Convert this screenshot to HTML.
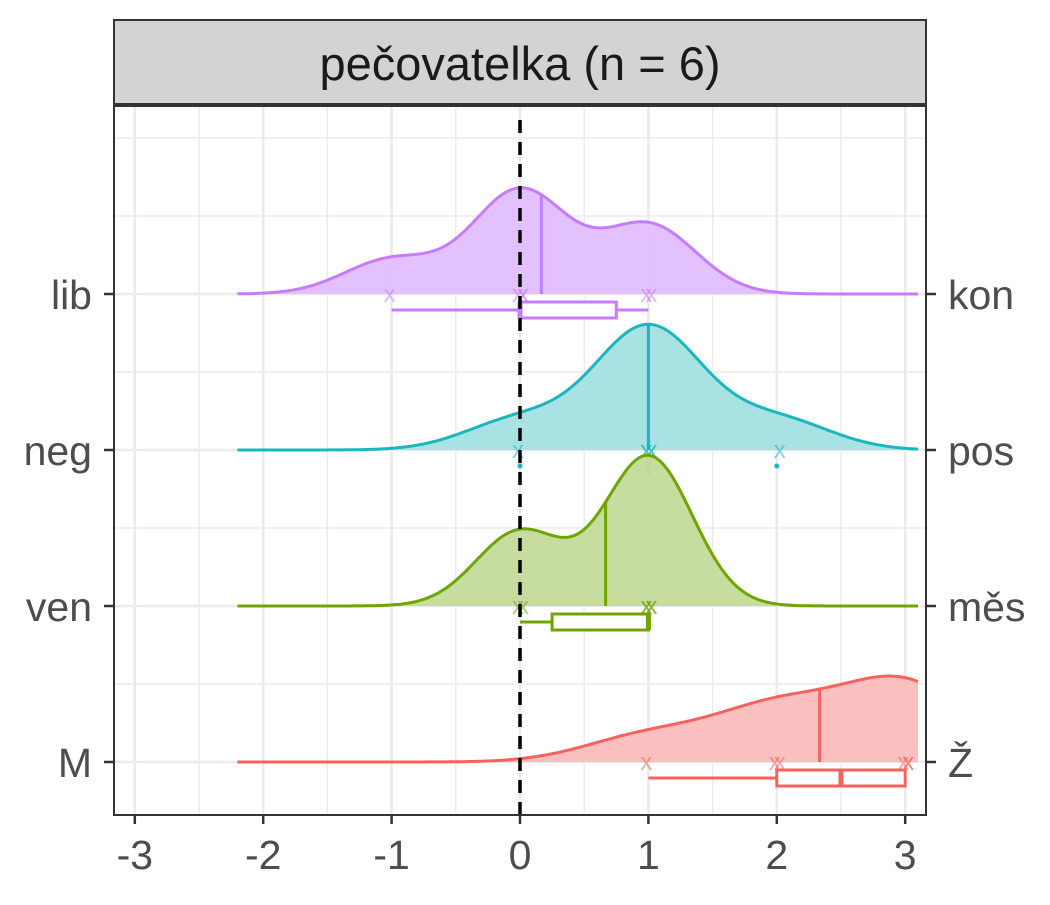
<!DOCTYPE html>
<html><head><meta charset="utf-8"><style>
html,body{margin:0;padding:0;background:#fff;}
svg text{font-family:"Liberation Sans",sans-serif;}
</style></head><body>
<svg id="chart" width="1050" height="900" viewBox="0 0 1050 900" xmlns="http://www.w3.org/2000/svg">
<rect x="0" y="0" width="1050" height="900" fill="#fff"/>
<g id="grid"></g>
<g id="marks"></g>
<g id="axes"></g>
</svg>
<script>
const categories = ["lib","neg","ven","M"];
const rightLabels = ["kon","pos","měs","Ž"];
const colors = ["#C77CFF","#1CB7BE","#6FA500","#F6635E"];
const fills = ["#E1BEFF","#A4E0E2","#C4DB9A","#F9BDBC"];
const valuesLib = [-1,0,0,0,1,1];
const valuesNeg = [0,1,1,1,1,2];
const valuesVen = [0,0,1,1,1,1];
const valuesM = [1,2,2,3,3,3];
const series = [valuesLib,valuesNeg,valuesVen,valuesM];
const xTicks = [-3,-2,-1,0,1,2,3];
const densMin = -2.2, densMax = 3.1;

const NS="http://www.w3.org/2000/svg";
const pl=114, pr=926, pt=106, pb=815;
const xs = v => 520 + v*128.4;
const rowY = i => 294 + i*156;
const grid=document.getElementById('grid'), marks=document.getElementById('marks'), axes=document.getElementById('axes');
function mk(tag, attrs, parent){const e=document.createElementNS(NS,tag);for(const k in attrs)e.setAttribute(k,attrs[k]);parent.appendChild(e);return e;}

for(let v=-3; v<=3.01; v+=0.5){
  const l=mk('line',{x1:xs(v),x2:xs(v),y1:pt,y2:pb,stroke:'#EBEBEB','stroke-width':Number.isInteger(v)?2.6:1.4},grid);
  
  
}
for(let k=-2; k<=7; k++){
  const y=rowY(0)+k*78-78;
  if(y<pt||y>pb) continue;
  const major = (k-1)%2===0 && k>=1 && k<=7;
  const l=mk('line',{x1:pl,x2:pr,y1:y,y2:y,stroke:'#EBEBEB','stroke-width':major?2.6:1.4},grid);
  
  
}

function quant(a,p){const s=[...a].sort((x,y)=>x-y);const h=(s.length-1)*p;const lo=Math.floor(h);return s[lo]+(h-lo)*((s[lo+1]??s[lo])-s[lo]);}
function bwNrd0(a){const n=a.length;const m=a.reduce((x,y)=>x+y)/n;const sd=Math.sqrt(a.reduce((s,v)=>s+(v-m)*(v-m),0)/(n-1));const iqr=(quant(a,.75)-quant(a,.25))/1.34;let lo=Math.min(sd,iqr);if(!lo)lo=sd;return 0.9*lo*Math.pow(n,-0.2);}
function kde(a,x,bw){let s=0;for(const v of a){const z=(x-v)/bw;s+=Math.exp(-0.5*z*z);}return s/(a.length*bw*Math.sqrt(2*Math.PI));}
const scale=192;

series.forEach((vals,i)=>{
  const y0=rowY(i), col=colors[i];
  const g=mk('g',{},marks);
  
  
  const bw=bwNrd0(vals)*1.05;
  const pts=[];
  for(let k=0;k<=200;k++){const x=densMin+(densMax-densMin)*k/200;pts.push([xs(x),y0-kde(vals,x,bw)*scale]);}
  const line=pts.map((p,j)=>(j?'L':'M')+p[0].toFixed(1)+','+p[1].toFixed(1)).join('');
  const area=mk('path',{d:line+`L${xs(densMax)},${y0}L${xs(densMin)},${y0}Z`,fill:fills[i],opacity:0.95},g);
  
  
  const cur=mk('path',{d:line,fill:'none',stroke:col,'stroke-width':3},g);
  
  
  const mean=vals.reduce((a,b)=>a+b)/vals.length;
  const ml=mk('line',{x1:xs(mean),x2:xs(mean),y1:y0,y2:y0-kde(vals,mean,bw)*scale,stroke:col,'stroke-width':3},g);
  
  
  vals.forEach((v,j)=>{
    const jx=xs(v)+((j%2)?3:-2);
    const t=mk('text',{x:jx,y:y0+8,'text-anchor':'middle','font-size':24,fill:col,opacity:0.55},g);
    t.textContent='x';
    
    
  });
  const q1=quant(vals,.25),med=quant(vals,.5),q3=quant(vals,.75);
  const iqr=q3-q1;
  const inl=vals.filter(v=>v>=q1-1.5*iqr&&v<=q3+1.5*iqr);
  const wl=Math.min(...inl), wh=Math.max(...inl);
  const by=y0+16;
  const b=mk('g',{},g);
  
  
  mk('line',{x1:xs(wl),x2:xs(q1),y1:by,y2:by,stroke:col,'stroke-width':3},b);
  mk('line',{x1:xs(q3),x2:xs(wh),y1:by,y2:by,stroke:col,'stroke-width':3},b);
  mk('rect',{x:xs(q1),y:by-8,width:Math.max(xs(q3)-xs(q1),1),height:16,fill:'#fff',stroke:col,'stroke-width':3},b);
  mk('line',{x1:xs(med),x2:xs(med),y1:by-8,y2:by+8,stroke:col,'stroke-width':5},b);
  vals.filter(v=>!inl.includes(v)).forEach(v=>{
    const c=mk('circle',{cx:xs(v),cy:by,r:2.5,fill:col},b);
    
    
  });
});
const zl=mk('line',{x1:xs(0),x2:xs(0),y1:120,y2:pb,stroke:'#000','stroke-width':3.5,'stroke-dasharray':'13,9'},marks);



const fr=mk('rect',{x:pl,y:pt,width:pr-pl,height:pb-pt,fill:'none',stroke:'#333','stroke-width':2},axes);


const st=mk('rect',{x:pl,y:20,width:pr-pl,height:84,fill:'#D3D3D3',stroke:'#333','stroke-width':2},axes);


const stt=mk('text',{x:520,y:80,'text-anchor':'middle','font-size':47,fill:'#1A1A1A'},axes);
stt.textContent='pečovatelka (n = 6)';


xTicks.forEach(v=>{
  mk('line',{x1:xs(v),x2:xs(v),y1:pb,y2:pb+9,stroke:'#333','stroke-width':2.5},axes);
  const t=mk('text',{x:xs(v),y:869,'text-anchor':'middle','font-size':41,fill:'#4D4D4D'},axes);
  t.textContent=String(v);
  
  
});
categories.forEach((c,i)=>{
  const y=rowY(i);
  mk('line',{x1:pl-10,x2:pl,y1:y,y2:y,stroke:'#333','stroke-width':2.5},axes);
  mk('line',{x1:pr,x2:pr+10,y1:y,y2:y,stroke:'#333','stroke-width':2.5},axes);
  const t=mk('text',{x:92,y:y+15,'text-anchor':'end','font-size':41,fill:'#4D4D4D'},axes);
  t.textContent=c;
  
  
  const r=mk('text',{x:948,y:y+15,'text-anchor':'start','font-size':41,fill:'#4D4D4D'},axes);
  r.textContent=rightLabels[i];
  
  
});
</script>
</body></html>
